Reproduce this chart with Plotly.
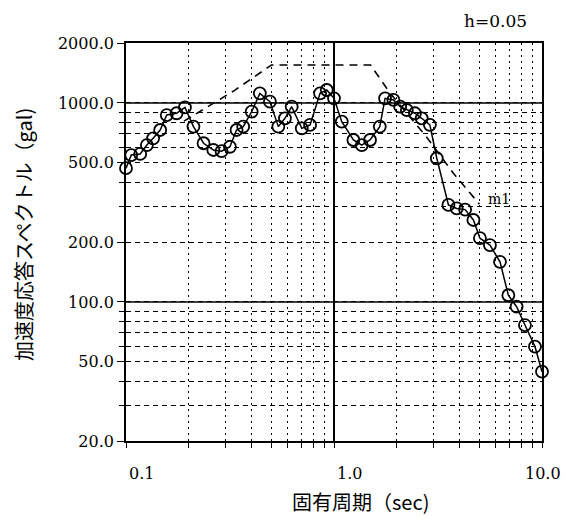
import math
import plotly.graph_objects as go

# ---- data ----
period = [0.100, 0.106, 0.117, 0.126, 0.135, 0.146, 0.157, 0.175, 0.192, 0.211,
          0.236, 0.263, 0.288, 0.316, 0.340, 0.366, 0.402, 0.440, 0.492, 0.540,
          0.581, 0.626, 0.700, 0.767, 0.857, 0.923, 1.00, 1.09, 1.24, 1.36,
          1.49, 1.66, 1.76, 1.93, 2.08, 2.24, 2.45, 2.64, 2.89, 3.12,
          3.55, 3.89, 4.27, 4.68, 5.03, 5.62, 6.28, 6.89, 7.55, 8.28,
          9.25, 10.0]
response = [470, 547, 554, 614, 664, 731, 869, 887, 950, 760,
            627, 580, 572, 602, 731, 760, 903, 1117, 1014, 760,
            837, 957, 745, 775, 1117, 1161, 1054, 805, 651, 614,
            651, 760, 1054, 1035, 957, 921, 887, 837, 776, 527,
            307, 295, 291, 258, 209, 193, 159, 108, 94.6, 76.5,
            59.6, 44.6]

design_period = [0.19, 0.33, 0.50, 1.50, 1.86, 2.78, 3.75, 5.0]
design_value = [810, 1150, 1550, 1550, 1120, 676, 443, 310]

x_tick_vals = [0.1, 1.0, 10.0]
x_tick_text = ["0.1", "1.0", "10.0"]
x_minor_vals = [0.2, 0.3, 0.4, 0.5, 0.6, 0.7, 0.8, 0.9, 2, 3, 4, 5, 6, 7, 8, 9]
y_tick_vals = [20, 50, 100, 200, 500, 1000, 2000]
y_tick_text = ["20.0", "50.0", "100.0", "200.0", "500.0", "1000.0", "2000.0"]
y_minor_vals = [30, 40, 60, 70, 80, 90, 300, 400, 600, 700, 800, 900]
y_solid_lines = [100, 1000]

SERIF = "DejaVu Serif"
CJK = "Noto Sans CJK JP"

fig = go.Figure()

fig.add_trace(go.Scatter(
    x=design_period, y=design_value, mode="lines",
    line=dict(color="black", width=1.6, dash="8px,6px"),
    showlegend=False, hoverinfo="skip"))

fig.add_trace(go.Scatter(
    x=period, y=response, mode="lines+markers",
    line=dict(color="black", width=1.5),
    marker=dict(symbol="circle-open", size=12, color="black",
                line=dict(width=1.8, color="black")),
    cliponaxis=False, showlegend=False))

for v in y_solid_lines:
    fig.add_shape(type="line", xref="paper", x0=0, x1=1, yref="y", y0=v, y1=v,
                  line=dict(color="black", width=1.5), layer="below")

annotations = []
for v, t in zip(x_tick_vals, x_tick_text):
    last = t == "10.0"
    annotations.append(dict(x=math.log10(v), xref="x", y=0, yref="paper",
                            yshift=-32, xshift=21 if last else 1,
                            text=t, showarrow=False,
                            xanchor="right" if last else "left",
                            yanchor="middle",
                            font=dict(family=SERIF, size=16, color="black")))

annotations += [
    dict(x=0.5625, y=-0.153, xref="paper", yref="paper",
         text="固有周期（sec)", showarrow=False, xanchor="center", yanchor="middle",
         font=dict(family=CJK, size=20, color="black")),
    dict(x=-0.2476, y=0.52, xref="paper", yref="paper", textangle=-90,
         text="加速度応答スペクトル（gal)", showarrow=False,
         xanchor="center", yanchor="middle",
         font=dict(family=CJK, size=20, color="black")),
    dict(x=0.889, y=1.055, xref="paper", yref="paper",
         text="h=0.05", showarrow=False, xanchor="center", yanchor="middle",
         font=dict(family=SERIF, size=17, color="black")),
    dict(x=math.log10(6.2), y=math.log10(329), xref="x", yref="y",
         text="m1", showarrow=False, xanchor="center", yanchor="middle",
         font=dict(family=SERIF, size=14, color="black")),
]

fig.update_layout(
    width=566, height=519,
    margin=dict(l=126, r=24, t=43, b=78),
    paper_bgcolor="white", plot_bgcolor="white",
    annotations=annotations,
    xaxis=dict(
        type="log", range=[-1, 1],
        tickvals=x_tick_vals, showticklabels=False,
        ticks="outside", ticklen=5, tickcolor="black", tickwidth=1.2,
        showgrid=True, gridcolor="black", gridwidth=1.5,
        showline=True, linecolor="black", linewidth=1.8, mirror=True,
        zeroline=False,
        minor=dict(tickvals=x_minor_vals, showgrid=True, gridcolor="black",
                   gridwidth=1.3, griddash="2px,4px", ticks="outside",
                   ticklen=5, tickcolor="black", tickwidth=1.2),
    ),
    yaxis=dict(
        type="log", range=[math.log10(20), math.log10(2000)],
        tickvals=y_tick_vals, ticktext=y_tick_text,
        tickfont=dict(family=SERIF, size=16, color="black"),
        ticks="outside", ticklen=7, tickcolor="black", tickwidth=1.2,
        showgrid=True, gridcolor="black", gridwidth=1.2, griddash="5px,4px",
        showline=True, linecolor="black", linewidth=1.8, mirror=True,
        zeroline=False,
        minor=dict(tickvals=y_minor_vals, showgrid=True, gridcolor="black",
                   gridwidth=1.2, griddash="5px,4px", ticks="outside",
                   ticklen=5, tickcolor="black", tickwidth=1.2),
    ),
)

fig.write_html("out.html",
               config={"displayModeBar": False},
               post_script="document.body.style.margin='0';"
                           "document.body.style.padding='0';"
                           "document.body.style.overflow='hidden';")
